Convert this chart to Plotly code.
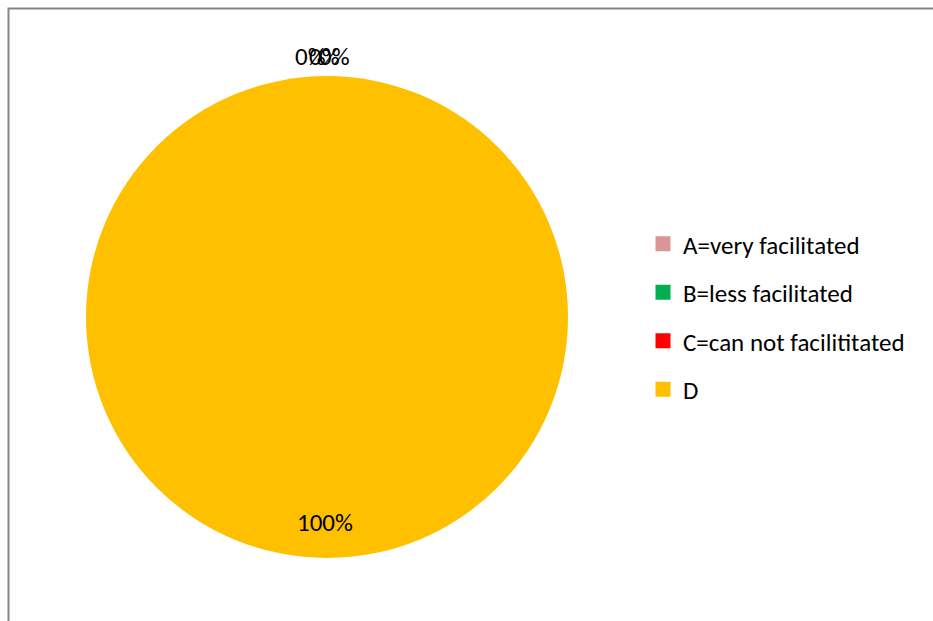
import plotly.graph_objects as go

categories = ["A=very facilitated", "B=less facilitated", "C=can not facilititated", "D"]
values = [0, 0, 0, 100]
colors = ["#D99694", "#00B050", "#FF0000", "#FFC000"]

W, H = 933, 621
total = sum(values)
pct = [f"{v / total * 100:.0f}%" for v in values]
FONT = "Carlito, Calibri, Lato, sans-serif"

fig = go.Figure()
fig.add_trace(go.Pie(
    labels=categories, values=values,
    marker=dict(colors=colors, line=dict(width=0)),
    textinfo="none", hoverinfo="label+percent",
    sort=False, direction="clockwise", rotation=0,
    domain=dict(x=[86 / W, 568 / W], y=[1 - 558 / H, 1 - 76 / H]),
    showlegend=False,
))

# legend entries (one per category, so the spacing between them can be set)
for i, (cat, col) in enumerate(zip(categories, colors)):
    fig.add_trace(go.Scatter(
        x=[None], y=[None], mode="markers", name=cat,
        marker=dict(symbol="square", size=15, color=col),
        legendgroup=f"g{i}", showlegend=True, hoverinfo="skip",
    ))

# data labels
label_pos = [(310, 57), (324, 57), (334, 57), (325, 522)]
for txt, (px, py) in zip(pct, label_pos):
    fig.add_annotation(x=px / W, y=1 - py / H, xref="paper", yref="paper",
                       xanchor="center", yanchor="middle",
                       text=txt, showarrow=False,
                       font=dict(size=25, color="#000000", family=FONT))

fig.add_shape(type="rect", xref="paper", yref="paper",
              x0=8.5 / W, x1=1.05, y0=-0.05, y1=1 - 8.5 / H,
              line=dict(color="#868686", width=2), fillcolor="rgba(0,0,0,0)")

fig.update_layout(
    width=W, height=H,
    margin=dict(l=0, r=0, t=0, b=0),
    paper_bgcolor="white", plot_bgcolor="rgba(0,0,0,0)",
    xaxis=dict(visible=False), yaxis=dict(visible=False),
    showlegend=True,
    legend=dict(x=643 / W, y=1 - 316.5 / H, xanchor="left", yanchor="middle",
                font=dict(size=25, color="#000000", family=FONT),
                tracegroupgap=13, itemwidth=30, bgcolor="rgba(0,0,0,0)"),
)
fig.write_html("out.html", config={"displayModeBar": False},
               post_script="document.body.style.margin='0';")
